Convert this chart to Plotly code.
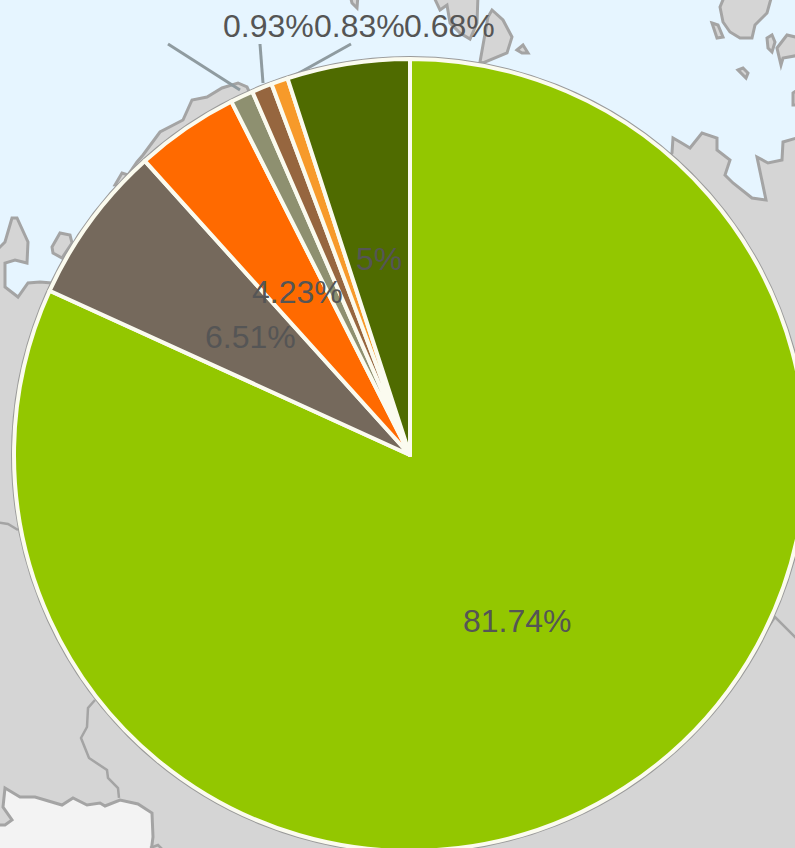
import plotly.graph_objects as go

# Chart data
slice_names = ["A", "B", "C", "D", "E", "F", "G"]
slice_values = [81.74, 6.51, 4.23, 0.93, 0.83, 0.68, 5]
slice_labels = ["81.74%", "6.51%", "4.23%", "0.93%", "0.83%", "0.68%", "5%"]
slice_colors = ["#93C700", "#75695C", "#FF6A00", "#8E9070", "#96663F", "#F79A2A", "#4F6B00"]

# Canvas (larger than the window, so the pie runs off the edge as in the reference)
W, H = 830, 870
CX, CY, R = 410, 455, 396

SEA, LAND, EDGE, PALE = "#E6F5FF", "#D5D5D5", "#A4A4A4", "#F3F3F3"
TEXT = "#555555"

# Background map outlines, in window pixels
land_left = [(-5,252),(5,242),(12,218),(17,218),(28,242),(27,263),(15,260),(5,263),(5,287),(18,297),
             (28,283),(40,282),(52,283),(410,453),(410,860),(-5,860)]
land_right = [(672,153),(673,138),(680,142),(690,148),(702,133),(717,138),(717,150),(730,160),(725,175),
              (733,183),(752,198),(766,200),(757,157),(768,163),(782,160),(783,142),(800,137),(820,137),
              (820,860),(410,860),(410,453)]
land_coast = [(115,185),(122,173),(128,175),(137,162),(143,155),(160,132),(183,120),(192,100),(207,97),
              (222,88),(238,83),(247,87),(300,200)]
islands = [
    [(720,7),(725,-5),(772,-5),(767,13),(755,25),(752,38),(740,38),(730,32),(723,22)],
    [(712,23),(718,25),(723,37),(717,38)],
    [(767,38),(772,35),(775,42),(772,52),(768,48)],
    [(777,48),(787,35),(800,38),(800,55),(783,58),(781,65)],
    [(738,70),(743,68),(748,73),(746,78)],
    [(793,93),(800,88),(800,105),(793,105)],
    [(480,62),(488,17),(492,10),(503,20),(512,37),(507,53),(483,63)],
    [(433,-5),(440,10),(447,5),(450,23),(460,33),(470,39),(477,23),(478,-5)],
    [(350,-5),(358,-5),(357,8),(352,3)],
    [(517,50),(523,45),(528,53),(522,53)],
    [(52,247),(60,233),(70,235),(72,243),(62,258),(53,253)],
]
pale_land = [(5,788),(20,797),(35,797),(62,805),(73,798),(87,805),(100,803),(105,806),(120,800),(138,804),
             (152,813),(153,837),(150,860),(-5,860),(-5,825),(5,825),(12,820),(3,807)]
borders = [
    [(95,700),(88,708),(87,727),(81,738),(89,758),(107,770),(108,778),(118,788),(119,798)],
    [(150,848),(158,845),(165,852)],
    [(-5,522),(8,524),(18,530)],
    [(765,632),(775,617),(800,642)],
]
leader_lines = [
    [(168,44),(240,90)],
    [(260,44),(263,83)],
    [(351,44),(290,78)],
]
label_positions = [(517,621),(250,337),(297,292),(268,26),(359,26),(449,26),(379,259)]


def px(x): return x / W
def py(y): return 1 - y / H
def path(pts, close=True):
    s = "M" + " L".join(f"{px(x):.5f},{py(y):.5f}" for x, y in pts)
    return s + (" Z" if close else "")


shapes = []
for poly, fill in [(land_left, LAND), (land_right, LAND), (land_coast, LAND), (pale_land, PALE)] + [(i, LAND) for i in islands]:
    shapes.append(dict(type="path", xref="paper", yref="paper", layer="below", path=path(poly),
                       fillcolor=fill, line=dict(color=EDGE, width=3)))
for b in borders:
    shapes.append(dict(type="path", xref="paper", yref="paper", layer="below", path=path(b, False),
                       line=dict(color=EDGE, width=2.5)))
for l in leader_lines:
    shapes.append(dict(type="path", xref="paper", yref="paper", layer="below", path=path(l, False),
                       line=dict(color="#8F9BA0", width=3)))
# thin grey rim round the pie
RR = R + 2
shapes.append(dict(type="circle", xref="paper", yref="paper", layer="below",
                   x0=px(CX-RR), x1=px(CX+RR), y0=py(CY+RR), y1=py(CY-RR),
                   fillcolor="white", line=dict(color="#9A9A9A", width=2)))

annotations = [
    dict(x=px(x), y=py(y), xref="paper", yref="paper", text=t, showarrow=False,
         xanchor="center", yanchor="middle", font=dict(family="Liberation Sans, Arial", size=32, color=TEXT))
    for t, (x, y) in zip(slice_labels, label_positions)
]

fig = go.Figure(go.Pie(
    labels=slice_names, values=slice_values, sort=False, direction="clockwise", rotation=0,
    marker=dict(colors=slice_colors, line=dict(color="#FBFBEF", width=4)),
    textinfo="none", showlegend=False, hoverinfo="label+percent",
    domain=dict(x=[px(CX-R), px(CX+R)], y=[py(CY+R), py(CY-R)]),
))
fig.update_layout(width=W, height=H, margin=dict(l=0, r=0, t=0, b=0), autosize=False,
                  paper_bgcolor=SEA, plot_bgcolor=SEA, showlegend=False,
                  shapes=shapes, annotations=annotations)
fig.write_html("out.html", config=dict(displayModeBar=False), post_script=(
    "document.body.style.margin='0';document.body.style.overflow='hidden';"
    "document.documentElement.style.overflow='hidden';"))
